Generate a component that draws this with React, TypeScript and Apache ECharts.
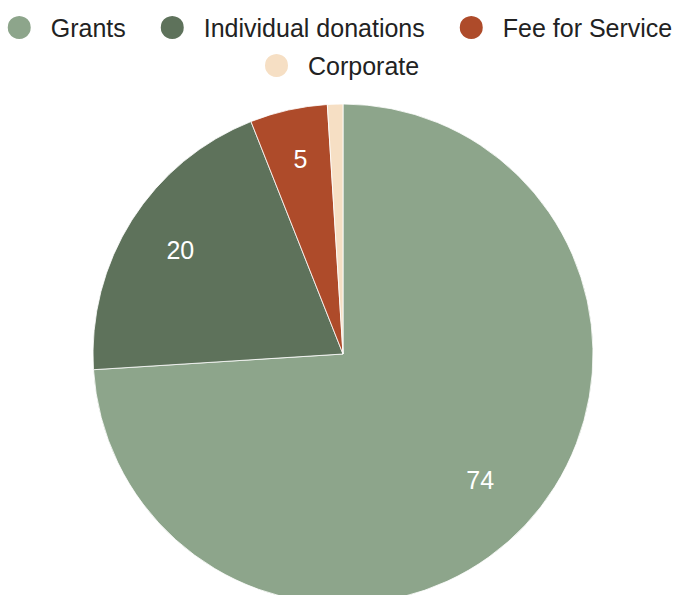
import React, { useEffect, useRef } from "react";
import * as echarts from "echarts";

const categories = ["Grants", "Individual donations", "Fee for Service", "Corporate"];
const values = [74, 20, 5, 1];
const colors = ["#8da58b", "#5e725b", "#ae4b2a", "#f6dfc4"];
const legendRow1 = categories.slice(0, 3);
const legendRow2 = categories.slice(3);

const FONT = "'Liberation Sans', Arial, sans-serif";

export default function App() {
  const ref = useRef<HTMLDivElement>(null);
  useEffect(() => {
    const chart = echarts.init(ref.current!, null, { renderer: "svg" });
    const data = categories.map((name, i) => ({ name, value: values[i] }));
    const labelOffsets = [[-5, -7], [2, 0], [0, -5], [0, 0]];
    const legendBase = {
      left: "center",
      icon: "circle",
      itemWidth: 53,
      itemHeight: 25,
      itemGap: 33,
      selectedMode: false,
      textStyle: { fontSize: 25, color: "#222", fontFamily: FONT },
    };
    chart.setOption({
      animation: false,
      color: colors,
      textStyle: { fontFamily: FONT },
      legend: [
        { ...legendBase, data: legendRow1, top: 9 },
        { ...legendBase, data: legendRow2, top: 47, left: 258 },
      ],
      series: [
        {
          type: "pie",
          center: [343, 354],
          radius: [0, 250],
          startAngle: 90,
          clockwise: true,
          data,
          label: { show: false },
          labelLine: { show: false },
          itemStyle: { borderColor: "#fff", borderWidth: 0.8 },
          emphasis: { disabled: true },
        },
        {
          type: "pie",
          center: [343, 354],
          radius: [134, 250],
          startAngle: 90,
          clockwise: true,
          silent: true,
          data: data.map((d, i) => ({
            ...d,
            label: { show: i < 3, offset: labelOffsets[i] },
          })),
          itemStyle: { color: "rgba(0,0,0,0)" },
          label: {
            show: true,
            position: "inside",
            formatter: "{c}",
            color: "#fff",
            fontSize: 25,
            fontFamily: FONT,
          },
          labelLine: { show: false },
          emphasis: { disabled: true },
        },
      ],
    });
    return () => chart.dispose();
  }, []);
  return (
    <div
      ref={ref}
      style={{ position: "absolute", left: 0, top: 0, width: 678, height: 595 }}
    />
  );
}
